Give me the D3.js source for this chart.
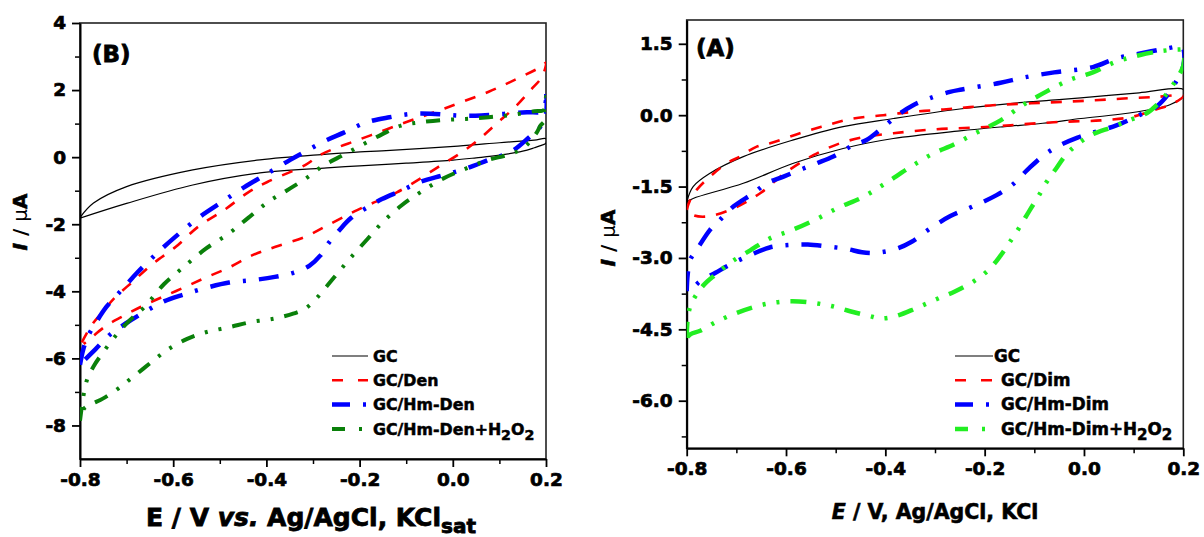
<!DOCTYPE html>
<html><head><meta charset="utf-8">
<script src="https://cdn.jsdelivr.net/npm/d3@7"></script>
<style>body{margin:0;background:#fff}svg{display:block}</style>
</head><body><svg id="c" width="1204" height="537"></svg>
<script>
// ---------- shared tick / legend labels ----------
const xTicksE = [-0.8, -0.6, -0.4, -0.2, 0.0, 0.2];
const yTicksB = [4, 2, 0, -2, -4, -6, -8];
const yTicksA = [1.5, 0.0, -1.5, -3.0, -4.5, -6.0];
const legendB = ["GC", "GC/Den", "GC/Hm-Den", "GC/Hm-Den+H2O2"];
const legendA = ["GC", "GC/Dim", "GC/Hm-Dim", "GC/Hm-Dim+H2O2"];

// ---------- Panel (B) data: [E (V), I (µA)] ----------
const gcB = [[-0.8,-1.80],[-0.771,-1.37],[-0.70,-0.88],[-0.558,-0.38],[-0.414,-0.08],[-0.27,0.09],[-0.199,0.16],[-0.152,0.19],[0.011,0.33],[0.10,0.43],[0.175,0.51],[0.2,0.55],
  [0.2,0.42],[0.19,0.35],[0.175,0.28],[0.15,0.18],[0.10,0.06],[0.05,-0.02],[0.0,-0.09],[-0.10,-0.18],[-0.20,-0.26],[-0.27,-0.32],[-0.414,-0.47],[-0.558,-0.83],[-0.70,-1.38],[-0.8,-1.82]];
const denB = [[-0.796,-5.52],[-0.775,-5.01],[-0.751,-4.61],[-0.726,-4.20],[-0.685,-3.69],[-0.644,-3.18],[-0.595,-2.68],[-0.546,-2.07],[-0.489,-1.56],[-0.439,-1.05],[-0.398,-0.74],[-0.316,-0.23],[-0.284,0.07],[-0.251,0.27],[-0.210,0.48],[-0.161,0.73],[-0.111,0.99],[-0.070,1.19],[-0.030,1.39],[0.011,1.60],[0.077,1.95],[0.134,2.31],[0.192,2.72],[0.2,2.82],
  [0.192,2.41],[0.167,2.00],[0.134,1.50],[0.093,0.99],[0.052,0.48],[0.011,0.07],[-0.030,-0.28],[-0.070,-0.64],[-0.120,-1.05],[-0.169,-1.35],[-0.210,-1.61],[-0.259,-1.96],[-0.316,-2.37],[-0.382,-2.68],[-0.431,-2.93],[-0.480,-3.29],[-0.530,-3.59],[-0.579,-3.90],[-0.628,-4.20],[-0.669,-4.46],[-0.710,-4.76],[-0.743,-5.02],[-0.775,-5.37],[-0.792,-5.57]];
const hmDenB = [[-0.8,-6.19],[-0.793,-5.73],[-0.784,-5.37],[-0.767,-4.96],[-0.743,-4.46],[-0.710,-3.95],[-0.677,-3.44],[-0.636,-2.88],[-0.595,-2.37],[-0.546,-1.81],[-0.497,-1.35],[-0.448,-0.90],[-0.398,-0.49],[-0.349,-0.08],[-0.316,0.17],[-0.275,0.48],[-0.234,0.73],[-0.185,1.04],[-0.136,1.19],[-0.087,1.29],[-0.038,1.29],[0.011,1.24],[0.061,1.24],[0.110,1.29],[0.159,1.34],[0.192,1.37],[0.2,1.70],[0.2,1.98],
  [0.2,1.29],[0.184,0.83],[0.167,0.63],[0.126,0.17],[0.077,-0.08],[0.028,-0.34],[-0.021,-0.54],[-0.070,-0.74],[-0.111,-1.00],[-0.152,-1.25],[-0.185,-1.51],[-0.218,-1.81],[-0.243,-2.17],[-0.267,-2.57],[-0.284,-2.93],[-0.308,-3.24],[-0.341,-3.44],[-0.382,-3.57],[-0.431,-3.67],[-0.480,-3.74],[-0.530,-3.90],[-0.579,-4.10],[-0.620,-4.30],[-0.661,-4.61],[-0.702,-4.96],[-0.734,-5.27],[-0.767,-5.73],[-0.796,-6.13]];
const hmDenH2O2B = [[-0.8,-7.86],[-0.793,-7.15],[-0.785,-6.64],[-0.771,-6.24],[-0.751,-5.83],[-0.726,-5.37],[-0.693,-4.86],[-0.661,-4.46],[-0.620,-3.79],[-0.579,-3.29],[-0.530,-2.73],[-0.480,-2.27],[-0.439,-1.81],[-0.398,-1.35],[-0.357,-1.00],[-0.316,-0.64],[-0.275,-0.23],[-0.234,0.07],[-0.193,0.38],[-0.152,0.68],[-0.111,0.94],[-0.070,1.04],[-0.021,1.11],[0.028,1.14],[0.077,1.19],[0.126,1.26],[0.175,1.37],[0.196,1.41],[0.2,1.80],
  [0.2,1.14],[0.188,0.94],[0.180,0.73],[0.151,0.27],[0.118,0.07],[0.077,-0.08],[0.028,-0.34],[-0.021,-0.64],[-0.070,-1.05],[-0.111,-1.45],[-0.152,-1.96],[-0.185,-2.47],[-0.218,-2.98],[-0.243,-3.39],[-0.267,-3.79],[-0.292,-4.20],[-0.316,-4.51],[-0.341,-4.66],[-0.382,-4.81],[-0.431,-4.91],[-0.480,-5.07],[-0.530,-5.22],[-0.570,-5.42],[-0.611,-5.73],[-0.644,-6.08],[-0.685,-6.54],[-0.718,-6.90],[-0.751,-7.20],[-0.775,-7.36],[-0.792,-7.51],[-0.8,-7.86]];

// ---------- Panel (A) data ----------
const gcA = [[-0.8,-1.82],[-0.787,-1.50],[-0.753,-1.22],[-0.686,-0.87],[-0.585,-0.52],[-0.485,-0.24],[-0.384,-0.07],[-0.25,0.13],[-0.122,0.27],[-0.044,0.33],[0.033,0.40],[0.111,0.47],[0.2,0.54],
  [0.2,0.40],[0.173,0.22],[0.134,0.12],[0.072,0.02],[-0.006,-0.07],[-0.083,-0.17],[-0.160,-0.24],[-0.25,-0.33],[-0.384,-0.49],[-0.485,-0.70],[-0.585,-1.01],[-0.686,-1.43],[-0.787,-1.75],[-0.8,-1.82]];
const dimA = [[-0.8,-1.99],[-0.793,-1.78],[-0.78,-1.57],[-0.753,-1.29],[-0.719,-1.01],[-0.693,-0.87],[-0.659,-0.66],[-0.632,-0.59],[-0.572,-0.38],[-0.518,-0.21],[-0.465,-0.07],[-0.404,0.00],[-0.344,0.07],[-0.283,0.12],[-0.230,0.17],[-0.168,0.22],[-0.106,0.25],[-0.044,0.28],[0.018,0.31],[0.080,0.35],[0.142,0.38],[0.2,0.41],
  [0.181,0.25],[0.142,0.11],[0.095,-0.04],[0.033,-0.11],[-0.044,-0.14],[-0.122,-0.19],[-0.199,-0.25],[-0.303,-0.30],[-0.384,-0.38],[-0.438,-0.45],[-0.491,-0.59],[-0.545,-0.84],[-0.599,-1.19],[-0.652,-1.64],[-0.706,-1.96],[-0.760,-2.13],[-0.787,-2.10],[-0.8,-1.99]];
const hmDimA = [[-0.8,-3.70],[-0.798,-3.35],[-0.793,-3.04],[-0.78,-2.83],[-0.753,-2.41],[-0.733,-2.20],[-0.706,-1.92],[-0.666,-1.64],[-0.639,-1.43],[-0.605,-1.29],[-0.565,-1.12],[-0.538,-1.01],[-0.505,-0.87],[-0.465,-0.63],[-0.438,-0.52],[-0.411,-0.31],[-0.370,0.04],[-0.344,0.21],[-0.310,0.36],[-0.270,0.49],[-0.246,0.54],[-0.168,0.68],[-0.122,0.79],[-0.060,0.90],[0.018,1.01],[0.064,1.19],[0.111,1.29],[0.165,1.40],[0.196,1.44],[0.2,1.40],
  [0.2,1.04],[0.184,0.68],[0.169,0.43],[0.146,0.18],[0.111,0.00],[0.064,-0.22],[0.026,-0.34],[-0.013,-0.47],[-0.052,-0.65],[-0.083,-0.86],[-0.114,-1.15],[-0.145,-1.47],[-0.176,-1.68],[-0.222,-1.91],[-0.269,-2.12],[-0.308,-2.37],[-0.347,-2.66],[-0.378,-2.81],[-0.416,-2.89],[-0.447,-2.88],[-0.478,-2.81],[-0.517,-2.76],[-0.556,-2.72],[-0.595,-2.73],[-0.633,-2.78],[-0.672,-2.94],[-0.711,-3.13],[-0.742,-3.31],[-0.773,-3.49],[-0.788,-3.63],[-0.8,-3.70]];
const hmDimH2O2A = [[-0.8,-4.68],[-0.798,-4.28],[-0.792,-3.99],[-0.781,-3.78],[-0.765,-3.56],[-0.742,-3.35],[-0.711,-3.09],[-0.672,-2.84],[-0.633,-2.59],[-0.587,-2.41],[-0.540,-2.19],[-0.494,-1.94],[-0.447,-1.73],[-0.401,-1.44],[-0.354,-1.12],[-0.308,-0.83],[-0.261,-0.61],[-0.215,-0.36],[-0.168,-0.11],[-0.122,0.22],[-0.075,0.50],[-0.029,0.74],[0.018,0.90],[0.064,1.12],[0.111,1.26],[0.157,1.35],[0.192,1.38],[0.2,1.37],
  [0.2,1.04],[0.188,0.79],[0.173,0.54],[0.150,0.25],[0.126,0.04],[0.095,-0.09],[0.057,-0.25],[0.018,-0.40],[-0.013,-0.61],[-0.036,-0.83],[-0.056,-1.12],[-0.075,-1.40],[-0.091,-1.69],[-0.110,-2.01],[-0.129,-2.34],[-0.149,-2.66],[-0.168,-2.95],[-0.191,-3.24],[-0.222,-3.49],[-0.261,-3.71],[-0.300,-3.88],[-0.339,-4.06],[-0.378,-4.22],[-0.409,-4.27],[-0.432,-4.22],[-0.471,-4.12],[-0.509,-4.01],[-0.548,-3.94],[-0.587,-3.91],[-0.626,-3.94],[-0.664,-4.03],[-0.703,-4.17],[-0.742,-4.35],[-0.773,-4.53],[-0.792,-4.60],[-0.8,-4.68]];

const FONT = "'DejaVu Sans', sans-serif";
const svg = d3.select("#c");

const styles = {
  gc:   {color:"#000000", width:1.2, dash:null},
  red:  {color:"#ff0000", width:2.6, dash:"11,11"},
  blue: {color:"#0000ff", width:4.5, dash:"20,13,3,13"},
  green:{color:"#0a800a", width:4,   dash:"14,11,3,11,3,11"},
  lime: {color:"#22ee22", width:4.5, dash:"16,11,3,11,3,11"}
};

function heavy(sel, w) {
  return sel.attr("stroke", "#000").attr("stroke-width", w).attr("paint-order", "stroke");
}

function richText(sel, label) {
  const parts = label.split(/(H2O2)/);
  parts.forEach(p => {
    if (p === "H2O2") {
      sel.append("tspan").text("H");
      sel.append("tspan").attr("dy", 5).attr("font-size", "0.9em").text("2");
      sel.append("tspan").attr("dy", -5).text("O");
      sel.append("tspan").attr("dy", 5).attr("font-size", "0.9em").text("2");
    } else if (p) sel.append("tspan").text(p);
  });
}

function panel(cfg) {
  const g = svg.append("g");
  const x = d3.scaleLinear().domain([-0.8, 0.2]).range(cfg.xr);
  const y = d3.scaleLinear().domain(cfg.yd).range(cfg.yr);
  const id = "clip" + cfg.name;
  svg.append("clipPath").attr("id", id).append("rect")
    .attr("x", cfg.xr[0]).attr("y", cfg.yr[1]).attr("width", cfg.xr[1]-cfg.xr[0]).attr("height", cfg.yr[0]-cfg.yr[1]);

  // minor ticks
  g.append("g").attr("transform", `translate(0,${cfg.yr[0]})`)
    .call(d3.axisBottom(x).tickValues(d3.range(-0.7, 0.2, 0.2)).tickSize(5).tickFormat("").tickSizeOuter(0))
    .call(a => a.select(".domain").remove()).selectAll("line").attr("stroke-width", 1.5);
  g.append("g").attr("transform", `translate(${cfg.xr[0]},0)`)
    .call(d3.axisLeft(y).tickValues(cfg.yMinor).tickSize(5).tickFormat("").tickSizeOuter(0))
    .call(a => a.select(".domain").remove()).selectAll("line").attr("stroke-width", 1.5);

  // frame
  g.append("rect").attr("x", cfg.xr[0]).attr("y", cfg.yr[1]).attr("width", cfg.xr[1]-cfg.xr[0]).attr("height", cfg.yr[0]-cfg.yr[1])
    .attr("fill", "none").attr("stroke", "#222").attr("stroke-width", 1.6);

  // major axes
  const xa = g.append("g").attr("transform", `translate(0,${cfg.yr[0]})`)
    .call(d3.axisBottom(x).tickValues(xTicksE).tickFormat(d3.format(".1f")).tickSize(8).tickPadding(6).tickSizeOuter(0));
  const ya = g.append("g").attr("transform", `translate(${cfg.xr[0]},0)`)
    .call(d3.axisLeft(y).tickValues(cfg.yTicks).tickFormat(cfg.yFmt).tickSize(8).tickPadding(6).tickSizeOuter(0));
  [xa, ya].forEach(a => {
    a.select(".domain").attr("stroke-width", 2);
    a.selectAll("line").attr("stroke-width", 1.8);
    heavy(a.selectAll("text").attr("font-family", FONT).attr("font-weight", "bold").attr("font-size", 18.5).attr("fill", "#000"), 0.7);
  });
  xa.selectAll("text").text(d => d3.format(".1f")(d).replace("−", "-"));
  ya.selectAll("text").text(d => cfg.yFmt(d).replace("−", "-"));

  // curves
  const line = d3.line().x(d => x(d[0])).y(d => y(d[1])).curve(d3.curveCatmullRom.alpha(0.5));
  const cg = g.append("g").attr("clip-path", `url(#${id})`);
  cfg.series.forEach(s => {
    const st = styles[s.style];
    cg.append("path").datum(s.data).attr("d", line).attr("fill", "none")
      .attr("stroke", st.color).attr("stroke-width", st.width)
      .attr("stroke-dasharray", st.dash).attr("stroke-linejoin", "round");
  });

  // legend
  cfg.series.forEach((s, i) => {
    const st = styles[s.style];
    const yy = cfg.leg.y + i * cfg.leg.dy;
    g.append("line").attr("x1", cfg.leg.x1).attr("x2", cfg.leg.x2).attr("y1", yy).attr("y2", yy)
      .attr("stroke", st.color).attr("stroke-width", st.width).attr("stroke-dasharray", cfg.leg.dash[i]);
    const t = g.append("text").attr("x", i === 0 ? cfg.leg.tx0 : cfg.leg.tx).attr("y", yy + 5.8)
      .attr("font-family", FONT).attr("font-weight", "bold").attr("font-size", cfg.leg.fs);
    heavy(t, 0.5);
    richText(t, cfg.legend[i]);
  });

  // panel letter
  heavy(g.append("text").attr("x", cfg.tag[0]).attr("y", cfg.tag[1]).attr("font-family", FONT)
    .attr("font-weight", "bold").attr("font-size", 23).text(cfg.name === "B" ? "(B)" : "(A)"), 0.8);

  // y label
  const yl = g.append("text").attr("transform", `translate(${cfg.ylab[0]},${cfg.ylab[1]}) rotate(-90)`)
    .attr("text-anchor", "middle").attr("font-family", FONT).attr("font-size", 20);
  yl.append("tspan").attr("font-weight", "bold").attr("font-style", "italic").attr("stroke", "#000").attr("stroke-width", 0.6).text("I");
  yl.append("tspan").attr("font-weight", "bold").text(" / ");
  yl.append("tspan").attr("font-weight", "normal").text("\u03bc");
  yl.append("tspan").attr("font-weight", "bold").attr("stroke", "#000").attr("stroke-width", 0.6).text("A");
  return g;
}

const gB = panel({
  name: "B", xr: [80, 546], yr: [459, 23], yd: [-9, 4], yTicks: yTicksB, yMinor: [3, 1, -1, -3, -5, -7],
  yFmt: d3.format("d"),
  series: [{data: gcB, style: "gc"}, {data: denB, style: "red"}, {data: hmDenB, style: "blue"}, {data: hmDenH2O2B, style: "green"}],
  legend: legendB,
  leg: {x1: 332, x2: 368, tx0: 373, tx: 373, y: 356, dy: 24.3, fs: 15.8,
        dash: [null, "11,15,11", "18,13,3", "13,14,3"]},
  tag: [92, 62], ylab: [27, 222]
});
const xlB = gB.append("text").attr("x", 311).attr("y", 526).attr("text-anchor", "middle")
  .attr("font-family", FONT).attr("font-weight", "bold").attr("font-size", 25);
heavy(xlB, 0.8);
xlB.append("tspan").text("E / V ");
xlB.append("tspan").attr("font-style", "italic").text("vs.");
xlB.append("tspan").text(" Ag/AgCl, KCl");
xlB.append("tspan").attr("dy", 7).attr("font-size", 20).text("sat");

const gA = panel({
  name: "A", xr: [686.7, 1183.3], yr: [448.3, 20], yd: [-7, 2], yTicks: yTicksA, yMinor: [0.75, -0.75, -2.25, -3.75, -5.25, -6.75],
  yFmt: d3.format(".1f"),
  series: [{data: gcA, style: "gc"}, {data: dimA, style: "red"}, {data: hmDimA, style: "blue"}, {data: hmDimH2O2A, style: "lime"}],
  legend: legendA,
  leg: {x1: 955, x2: 993, tx0: 994, tx: 1001, y: 356, dy: 24.3, fs: 16.8,
        dash: [null, "11,15,11", "18,13,3", "13,14,3"]},
  tag: [696, 56], ylab: [615, 238]
});
const xlA = gA.append("text").attr("x", 935).attr("y", 519).attr("text-anchor", "middle")
  .attr("font-family", FONT).attr("font-weight", "bold").attr("font-size", 20.5);
heavy(xlA, 0.6);
xlA.append("tspan").attr("font-style", "italic").text("E");
xlA.append("tspan").text(" / V, Ag/AgCl, KCl");
</script></body></html>
